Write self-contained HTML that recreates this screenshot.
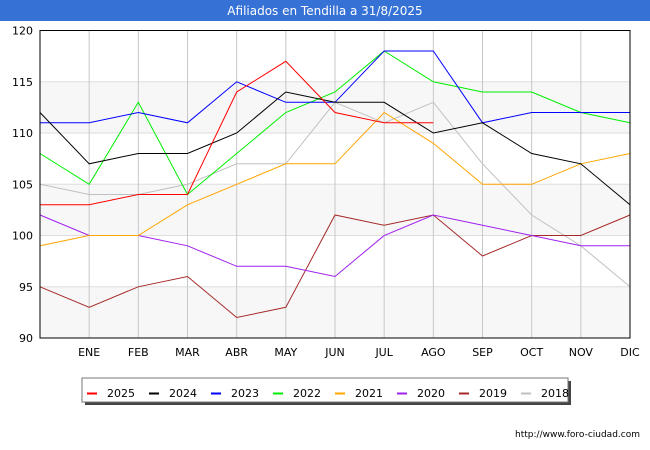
<!DOCTYPE html>
<html><head><meta charset="utf-8"><style>
body{margin:0;background:#fff}
svg{display:block;font-family:"DejaVu Sans","Liberation Sans",sans-serif}
</style></head><body>
<svg id="c" width="650" height="450">
<rect x="0" y="0" width="650" height="21" fill="#3672d6"/>
<text x="325" y="15" text-anchor="middle" font-size="12" fill="#fff">Afiliados en Tendilla a 31/8/2025</text>
<g id="plot"></g>
<text x="640" y="437" text-anchor="end" font-size="9" fill="#000">http://www.foro-ciudad.com</text>
</svg>
<script>
const months=["","ENE","FEB","MAR","ABR","MAY","JUN","JUL","AGO","SEP","OCT","NOV","DIC"];
const yTicks=[90,95,100,105,110,115,120];
const seriesNames=["2025","2024","2023","2022","2021","2020","2019","2018"];
const colors=["#ff0000","#000000","#0000ff","#00ee00","#ffa500","#a020f0","#a52a2a","#c0c0c0"];
const s2025=[103,103,104,104,114,117,112,111,111];
const s2024=[112,107,108,108,110,114,113,113,110,111,108,107,103];
const s2023=[111,111,112,111,115,113,113,118,118,111,112,112,112];
const s2022=[108,105,113,104,108,112,114,118,115,114,114,112,111];
const s2021=[99,100,100,103,105,107,107,112,109,105,105,107,108];
const s2020=[102,100,100,99,97,97,96,100,102,101,100,99,99];
const s2019=[95,93,95,96,92,93,102,101,102,98,100,100,102];
const s2018=[105,104,104,105,107,107,113,111,113,107,102,99,95];
const allSeries=[s2025,s2024,s2023,s2022,s2021,s2020,s2019,s2018];
const NS="http://www.w3.org/2000/svg";
const L=40,R=630,T=30.5,B=338;
const x=i=>L+(R-L)*i/12;
const y=v=>B-(v-90)*(B-T)/30;
const g=document.getElementById('plot');
function mk(t,a){const e=document.createElementNS(NS,t);for(const k in a)e.setAttribute(k,a[k]);g.appendChild(e);return e;}
for(let k=0;k<yTicks.length-1;k+=2){
  const b=mk('rect',{x:L,y:y(yTicks[k]+5),width:R-L,height:y(yTicks[k])-y(yTicks[k]+5),fill:'#f7f7f7'});
  
  
}
yTicks.forEach(v=>{
  const l=mk('line',{x1:L,x2:R,y1:y(v),y2:y(v),stroke:'#dddddd'});
  
  
  const t=mk('text',{x:33,y:y(v)+4,'text-anchor':'end','font-size':11,fill:'#000'});
  t.textContent=v;
  
  
});
months.forEach((m,i)=>{
  if(i===0)return;
  const l=mk('line',{x1:x(i),x2:x(i),y1:T,y2:B,stroke:'#c8c8c8'});
  
  
  const t=mk('text',{x:x(i),y:356,'text-anchor':'middle','font-size':11,fill:'#000'});
  t.textContent=m;
  
  
});
for(let s=allSeries.length-1;s>=0;s--){
  const pts=allSeries[s].map((v,i)=>x(i).toFixed(1)+','+y(v).toFixed(1)).join(' ');
  const p=mk('polyline',{points:pts,fill:'none',stroke:colors[s],'stroke-width':1});
  
  
}
const fr=mk('rect',{x:L,y:T,width:R-L,height:B-T,fill:'none',stroke:'#000'});


const sh=mk('rect',{x:85,y:381,width:486,height:24,fill:'#444'});


const lb=mk('rect',{x:82,y:378,width:486,height:24,fill:'#fff',stroke:'#777'});


seriesNames.forEach((n,i)=>{
  const lx=87+i*62;
  const l=mk('line',{x1:lx,x2:lx+10,y1:393.5,y2:393.5,stroke:colors[i],'stroke-width':2});
  
  
  const t=mk('text',{x:lx+20,y:397,'font-size':11,fill:'#000'});
  t.textContent=n;
  
  
});
</script>
</body></html>
